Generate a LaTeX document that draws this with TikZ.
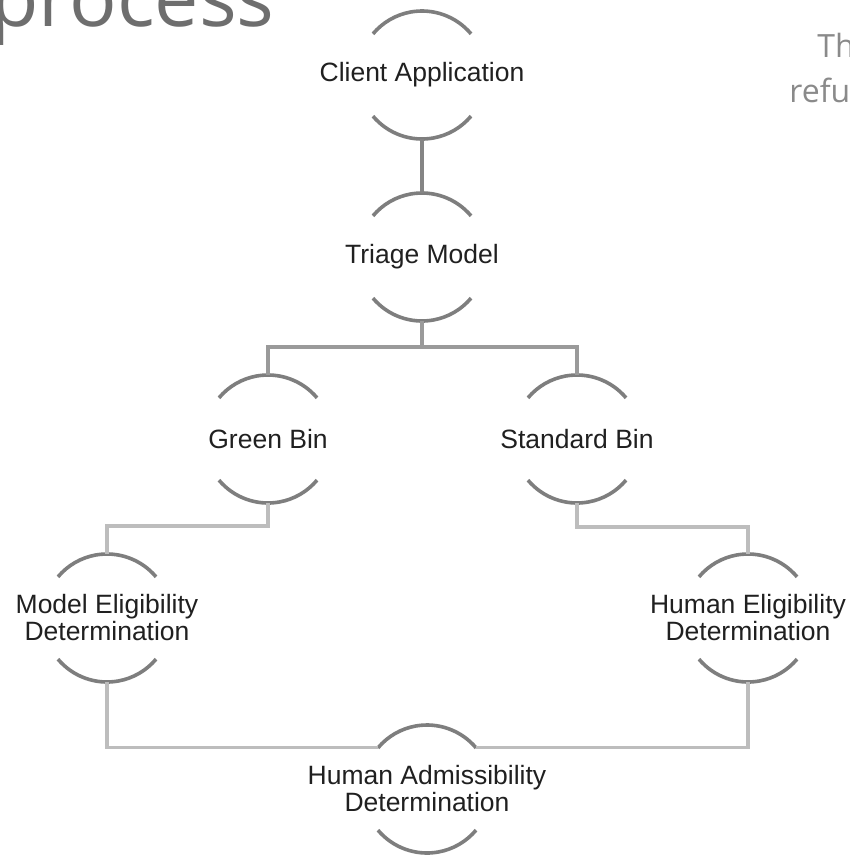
\documentclass[tikz,border=0pt]{standalone}
\usepackage{fontspec}
\setmainfont{Liberation Sans}
\newfontfamily\opensans{Open Sans}
\usetikzlibrary{calc}
\definecolor{arcgray}{HTML}{7E7E7E}
\definecolor{linedark}{HTML}{858585}
\definecolor{linemid}{HTML}{9A9A9A}
\definecolor{linelight}{HTML}{BDBDBD}
\definecolor{txt}{HTML}{202020}
\definecolor{headgray}{HTML}{6E6E6E}
\definecolor{sidegray}{HTML}{8A8A8A}
% arcs of a circle of radius 32pt round the node's centre, and named
% coordinates at their apexes and ends
\newcommand\bubblearcs[1]{%
  \coordinate (#1-top) at ($(#1.center)+(0,32pt)$);
  \coordinate (#1-bot) at ($(#1.center)+(0,-32pt)$);
  \coordinate (#1-tl) at ($(#1.center)+(140:32pt)$);
  \coordinate (#1-tr) at ($(#1.center)+(40:32pt)$);
  \draw[arcline] (#1-tr) arc[start angle=40,end angle=140,radius=32pt];
  \draw[arcline] ($(#1.center)+(220:32pt)$) arc[start angle=220,end angle=320,radius=32pt];}
\begin{document}
\begin{tikzpicture}[x=0.5pt,y=0.5pt,
  bubble/.style={inner sep=0pt,outer sep=0pt,align=center,
    text=txt,font=\fontsize{13.25pt}{13.5pt}\selectfont},
  arcline/.style={draw=arcgray,line width=1.8pt},
  conndark/.style={draw=linedark,line width=1.6pt},
  connmid/.style={draw=linemid,line width=1.6pt},
  connlight/.style={draw=linelight,line width=1.6pt},
  headtext/.style={anchor=base west,inner sep=0pt,text=headgray,font=\opensans\fontsize{39.5pt}{40pt}\selectfont},
  sidetext/.style={anchor=base west,inner sep=0pt,text=sidegray,font=\opensans\fontsize{16pt}{18pt}\selectfont}]
\useasboundingbox (0,0) rectangle (850,-857);
\fill[white] (0,0) rectangle (850,-857);

\node[headtext] (head) at (-10,-26) {process};
\node[sidetext] (side1) at (817,-57) {Th};
\node[sidetext] (side2) at (789,-102) {refu};

\node[bubble] (client) at (422,-75) {Client Application};
\node[bubble] (triage) at (422,-257) {Triage Model};
\node[bubble] (green) at (268,-439) {Green Bin};
\node[bubble] (standard) at (577,-439) {Standard Bin};
\node[bubble] (model) at (107,-618) {Model Eligibility\\Determination};
\node[bubble] (helig) at (748,-618) {Human Eligibility\\Determination};
\node[bubble] (admiss) at (427,-789) {Human Admissibility\\Determination};

\foreach \n in {client,triage,green,standard,model,helig,admiss}{\bubblearcs{\n}}

\draw[conndark] (client-bot) -- (triage-top);
\draw[connmid] (triage-bot) -- ++(0,-26) coordinate (tj);
\draw[connmid] (green-top) |- (tj) -| (standard-top);
\draw[connlight] (green-bot) -- ++(0,-23) -| (model-top);
\draw[connlight] (standard-bot) -- ++(0,-24) -| (helig-top);
\draw[connlight] (model-bot) |- (admiss-tl);
\draw[connlight] (helig-bot) |- (admiss-tr);
\end{tikzpicture}
\end{document}
